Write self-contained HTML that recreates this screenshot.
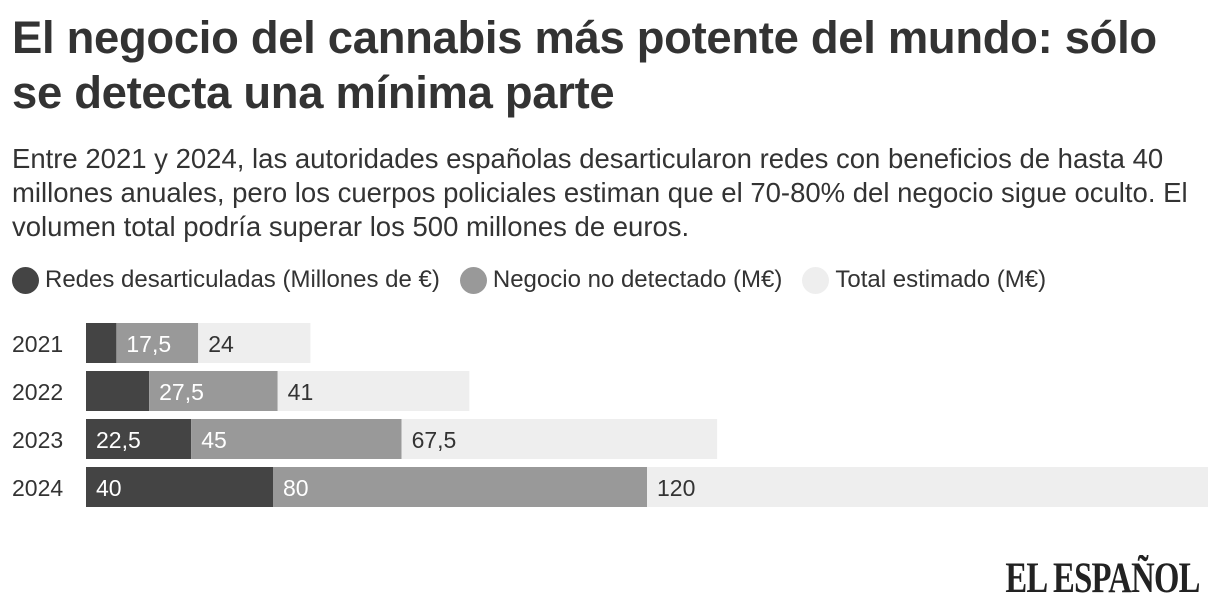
<!DOCTYPE html>
<html><head><meta charset="utf-8"><style>
body{margin:0;width:1220px;height:614px;background:#fff;font-family:"Liberation Sans",sans-serif;color:#333;position:relative;overflow:hidden}
h1{position:absolute;left:12px;top:10px;margin:0;font-size:45.4px;line-height:55px;font-weight:bold;color:#333;letter-spacing:-0.3px;white-space:nowrap}
.sub{position:absolute;left:12px;top:142px;width:1210px;font-size:27.5px;line-height:34px;color:#333;white-space:nowrap}
.legend{position:absolute;left:12px;top:266px;font-size:24px;display:flex;align-items:center;white-space:nowrap}
.sw{display:inline-block;width:27px;height:27px;border-radius:50%;margin-right:6px}
.le{display:flex;align-items:center;margin-right:20px}
.logo{position:absolute;right:20px;top:554px;font-family:"Liberation Serif",serif;font-size:43px;font-weight:bold;transform:scaleX(0.76);transform-origin:right;color:#222;letter-spacing:-1px}
</style></head><body>
<h1>El negocio del cannabis más potente del mundo: sólo<br>se detecta una mínima parte</h1>
<div class="sub">Entre 2021 y 2024, las autoridades españolas desarticularon redes con beneficios de hasta 40<br>millones anuales, pero los cuerpos policiales estiman que el 70-80% del negocio sigue oculto. El<br>volumen total podría superar los 500 millones de euros.</div>
<div class="legend">
<span class="le"><span class="sw" style="background:#444"></span>Redes desarticuladas (Millones de €)</span>
<span class="le"><span class="sw" style="background:#999"></span>Negocio no detectado (M€)</span>
<span class="le"><span class="sw" style="background:#eee"></span>Total estimado (M€)</span>
</div>
<svg id="chart" width="1220" height="614" style="position:absolute;left:0;top:0"></svg>
<div class="logo">EL ESPAÑOL</div>
<script>
const years=["2021","2022","2023","2024"];
const redes=[6.5,13.5,22.5,40];
const negocio=[17.5,27.5,45,80];
const total=[24,41,67.5,120];
const redesLabels=["","","22,5","40"];
const negocioLabels=["17,5","27,5","45","80"];
const totalLabels=["24","41","67,5","120"];
const svg=document.getElementById('chart');
const NS='http://www.w3.org/2000/svg';
const x0=86,scale=1122/240;
const xs=v=>x0+v*scale;
const yRow=i=>323+i*48;
const colors=["#444","#999","#eee"],tcol=["#fff","#fff","#333"];
function mk(tag,a){const e=document.createElementNS(NS,tag);for(const k in a)e.setAttribute(k,a[k]);svg.appendChild(e);return e;}
years.forEach((y,i)=>{
  const t=mk('text',{x:12,y:yRow(i)+29,'font-size':23,fill:'#333'});t.textContent=y;
  
  
  const vals=[redes[i],negocio[i],total[i]],labs=[redesLabels[i],negocioLabels[i],totalLabels[i]],names=['redes','negocio','total'];
  let acc=0;
  vals.forEach((v,j)=>{
    const r=mk('rect',{x:xs(acc),y:yRow(i),width:v*scale,height:40,fill:colors[j]});
    
    
    if(labs[j]){const l=mk('text',{x:xs(acc)+10,y:yRow(i)+29,'font-size':23,fill:tcol[j]});l.textContent=labs[j];
      
      }
    acc+=v;
  });
});
</script>
</body></html>
